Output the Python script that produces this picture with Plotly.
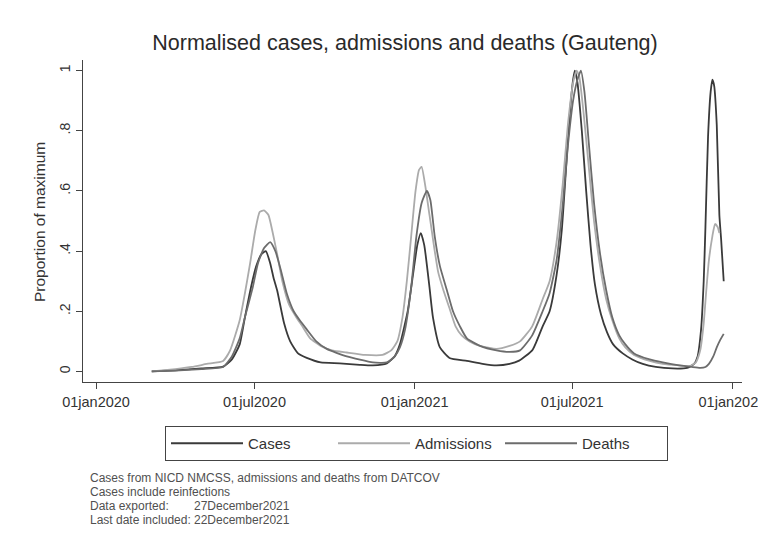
import plotly.graph_objects as go

# ---------------- data ----------------
case_dates = ["2020-03-05","2020-04-01","2020-05-01","2020-05-26","2020-06-05","2020-06-14","2020-06-20","2020-06-27",
              "2020-07-03","2020-07-09","2020-07-14","2020-07-19","2020-07-23","2020-07-27","2020-08-04","2020-08-11",
              "2020-08-20","2020-08-30","2020-09-15","2020-10-07","2020-10-30","2020-11-14","2020-11-30","2020-12-09",
              "2020-12-15","2020-12-24","2020-12-30","2021-01-04","2021-01-08","2021-01-12","2021-01-18","2021-01-22",
              "2021-01-30","2021-02-10","2021-03-02","2021-03-20","2021-04-05","2021-04-20","2021-05-01","2021-05-16",
              "2021-05-21","2021-05-28","2021-06-05","2021-06-13","2021-06-19","2021-06-24","2021-06-28","2021-07-02",
              "2021-07-04","2021-07-07","2021-07-12","2021-07-17","2021-07-22","2021-07-27","2021-08-03","2021-08-10",
              "2021-08-17","2021-08-28","2021-09-08","2021-09-20","2021-10-05","2021-10-24","2021-11-10","2021-11-18",
              "2021-11-22","2021-11-26","2021-11-29","2021-12-01","2021-12-04","2021-12-07","2021-12-09","2021-12-11",
              "2021-12-14","2021-12-17","2021-12-19","2021-12-22"]
case_vals = [0.0,0.004,0.010,0.016,0.04,0.09,0.18,0.28,
             0.35,0.39,0.40,0.36,0.31,0.27,0.16,0.10,
             0.06,0.045,0.03,0.027,0.022,0.02,0.027,0.05,
             0.09,0.20,0.32,0.42,0.46,0.42,0.28,0.18,
             0.08,0.045,0.035,0.025,0.02,0.025,0.036,0.07,
             0.10,0.15,0.20,0.32,0.47,0.68,0.85,0.97,
             1.0,0.96,0.80,0.60,0.42,0.29,0.19,0.13,
             0.09,0.06,0.04,0.025,0.015,0.01,0.012,0.025,
             0.05,0.14,0.30,0.48,0.78,0.93,0.97,0.95,
             0.82,0.52,0.44,0.30]

adm_dates = ["2020-03-05","2020-04-01","2020-04-20","2020-05-07","2020-05-26","2020-06-03","2020-06-14","2020-06-20",
             "2020-06-26","2020-07-02","2020-07-07","2020-07-12","2020-07-17","2020-07-22","2020-07-27","2020-08-02",
             "2020-08-10","2020-08-18","2020-08-25","2020-09-03","2020-09-15","2020-09-28","2020-10-15","2020-11-05",
             "2020-11-25","2020-12-05","2020-12-12","2020-12-18","2020-12-23","2020-12-28","2021-01-02","2021-01-06",
             "2021-01-09","2021-01-13","2021-01-18","2021-01-23","2021-01-28","2021-02-03","2021-02-10","2021-02-17",
             "2021-02-24","2021-03-05","2021-03-17","2021-04-05","2021-04-20","2021-05-02","2021-05-16","2021-05-28",
             "2021-06-05","2021-06-13","2021-06-20","2021-06-26","2021-07-02","2021-07-06","2021-07-09","2021-07-14",
             "2021-07-20","2021-07-26","2021-08-02","2021-08-09","2021-08-16","2021-08-24","2021-08-31","2021-09-10",
             "2021-09-28","2021-10-13","2021-11-01","2021-11-13","2021-11-20","2021-11-25","2021-11-29","2021-12-02",
             "2021-12-05","2021-12-09","2021-12-12","2021-12-15","2021-12-17"]
adm_vals = [0.0,0.008,0.015,0.025,0.035,0.07,0.17,0.26,
            0.36,0.47,0.53,0.535,0.52,0.46,0.39,0.30,
            0.22,0.18,0.15,0.11,0.085,0.07,0.063,0.055,
            0.055,0.07,0.10,0.18,0.30,0.45,0.60,0.67,
            0.68,0.62,0.52,0.42,0.33,0.27,0.21,0.15,
            0.12,0.10,0.085,0.075,0.085,0.10,0.15,0.24,
            0.30,0.43,0.62,0.82,0.96,1.0,0.98,0.86,
            0.68,0.50,0.35,0.24,0.17,0.11,0.08,0.055,
            0.035,0.025,0.02,0.018,0.03,0.07,0.16,0.27,
            0.37,0.45,0.49,0.48,0.46]

death_dates = ["2020-03-05","2020-04-01","2020-05-01","2020-05-26","2020-06-05","2020-06-14","2020-06-20","2020-06-29",
               "2020-07-05","2020-07-12","2020-07-19","2020-07-25","2020-07-31","2020-08-07","2020-08-15","2020-08-22",
               "2020-08-30","2020-09-10","2020-09-22","2020-10-15","2020-11-14","2020-11-30","2020-12-09","2020-12-15",
               "2020-12-21","2020-12-28","2021-01-03","2021-01-09","2021-01-15","2021-01-19","2021-01-24","2021-01-30",
               "2021-02-07","2021-02-14","2021-02-22","2021-03-02","2021-03-17","2021-04-05","2021-04-20","2021-05-02",
               "2021-05-16","2021-05-28","2021-06-05","2021-06-13","2021-06-20","2021-06-26","2021-07-02","2021-07-07",
               "2021-07-11","2021-07-15","2021-07-20","2021-07-26","2021-08-02","2021-08-09","2021-08-16","2021-08-24",
               "2021-08-31","2021-09-10","2021-09-28","2021-10-13","2021-11-01","2021-11-15","2021-11-25","2021-12-01",
               "2021-12-05","2021-12-10","2021-12-14","2021-12-18","2021-12-22"]
death_vals = [0.0,0.003,0.008,0.015,0.05,0.11,0.18,0.28,
              0.36,0.41,0.43,0.40,0.34,0.26,0.20,0.17,
              0.14,0.10,0.075,0.05,0.03,0.03,0.05,0.08,
              0.14,0.28,0.45,0.56,0.60,0.57,0.45,0.35,
              0.27,0.20,0.15,0.11,0.085,0.07,0.065,0.07,
              0.12,0.20,0.26,0.37,0.55,0.75,0.90,0.97,
              1.0,0.93,0.76,0.56,0.39,0.27,0.18,0.12,
              0.09,0.06,0.04,0.03,0.02,0.015,0.012,0.015,
              0.025,0.05,0.08,0.105,0.125]

x_tick_vals = ["2020-01-01","2020-07-01","2021-01-01","2021-07-01","2022-01-01"]
x_tick_text = ["01jan2020","01jul2020","01jan2021","01jul2021","01jan2022"]
y_tick_vals = [0, 0.2, 0.4, 0.6, 0.8, 1]
y_tick_text = ["0", ".2", ".4", ".6", ".8", "1"]

title_text = "Normalised cases, admissions and deaths (Gauteng)"
note_lines = ["Cases from NICD NMCSS, admissions and deaths from DATCOV",
              "Cases include reinfections",
              "Data exported:",
              "Last date included:"]
note_values = ["27December2021", "22December2021"]

# ---------------- figure ----------------
FONT = "Liberation Sans, Arial, sans-serif"
OFF = 8                      # page body margin of the html page
W, H = 766 - OFF, 550 - OFF
L, R, T, B = 83 - OFF, 24, 60 - OFF, 168
pw, ph = W - L - R, H - T - B

fig = go.Figure()
fig.add_trace(go.Scatter(x=case_dates, y=case_vals, mode="lines", name="Cases",
                         line=dict(color="#3a3a3a", width=1.8, shape="spline", smoothing=0.5)))
fig.add_trace(go.Scatter(x=adm_dates, y=adm_vals, mode="lines", name="Admissions",
                         line=dict(color="#ababab", width=1.8, shape="spline", smoothing=0.5)))
fig.add_trace(go.Scatter(x=death_dates, y=death_vals, mode="lines", name="Deaths",
                         line=dict(color="#6c6c6c", width=1.8, shape="spline", smoothing=0.5)))

def px_x(px):
    return (px - OFF - L) / pw

def px_y(py):
    return (H - B - (py - OFF)) / ph

NOTE_FONT = dict(family=FONT, size=12, color="#505050")
annotations = []
note_y = [478, 492, 506, 520]
for i, line in enumerate(note_lines):
    annotations.append(dict(text=line, x=px_x(88), y=px_y(note_y[i]), xref="paper", yref="paper",
                            xanchor="left", yanchor="middle", showarrow=False, font=NOTE_FONT))
for i, v in enumerate(note_values):
    annotations.append(dict(text=v, x=px_x(192), y=px_y(note_y[2 + i]), xref="paper", yref="paper",
                            xanchor="left", yanchor="middle", showarrow=False, font=NOTE_FONT))
annotations.append(dict(text="Proportion of maximum", x=px_x(40), y=px_y(222), xref="paper", yref="paper",
                        xanchor="center", yanchor="middle", showarrow=False, textangle=-90,
                        font=dict(family=FONT, size=15.5, color="#333333")))

fig.update_layout(
    width=W, height=H,
    margin=dict(l=L, r=R, t=T, b=B, autoexpand=False),
    paper_bgcolor="white", plot_bgcolor="white",
    title=dict(text=title_text, x=(405 - OFF) / W, xanchor="center", xref="container",
               y=1 - (42 - OFF) / H, yanchor="middle", yref="container",
               font=dict(family=FONT, size=21.5, color="#2a2a2a")),
    xaxis=dict(type="date", range=["2019-12-17", "2022-01-12"],
               tickmode="array", tickvals=x_tick_vals, ticktext=x_tick_text,
               showgrid=False, zeroline=False, showline=True, linecolor="#444", linewidth=1.2,
               ticks="outside", ticklen=6, tickcolor="#444", tickwidth=1.2,
               ticklabeloverflow="allow",
               tickfont=dict(family=FONT, size=14.5, color="#333")),
    yaxis=dict(range=[-0.035, 1.035], tickmode="array", tickvals=y_tick_vals, ticktext=y_tick_text,
               tickangle=-90, showgrid=False, zeroline=False, showline=True, linecolor="#444", linewidth=1.2,
               ticks="outside", ticklen=6, tickcolor="#444", tickwidth=1.2,
               tickfont=dict(family=FONT, size=14, color="#333")),
    showlegend=True,
    legend=dict(orientation="h", x=px_x(165), y=px_y(426), xanchor="left", yanchor="top",
                bordercolor="#444", borderwidth=1, bgcolor="white",
                font=dict(family=FONT, size=15, color="#333"),
                entrywidth=80, entrywidthmode="pixels", itemwidth=72),
    annotations=annotations,
)

fig.write_html("out.html")
